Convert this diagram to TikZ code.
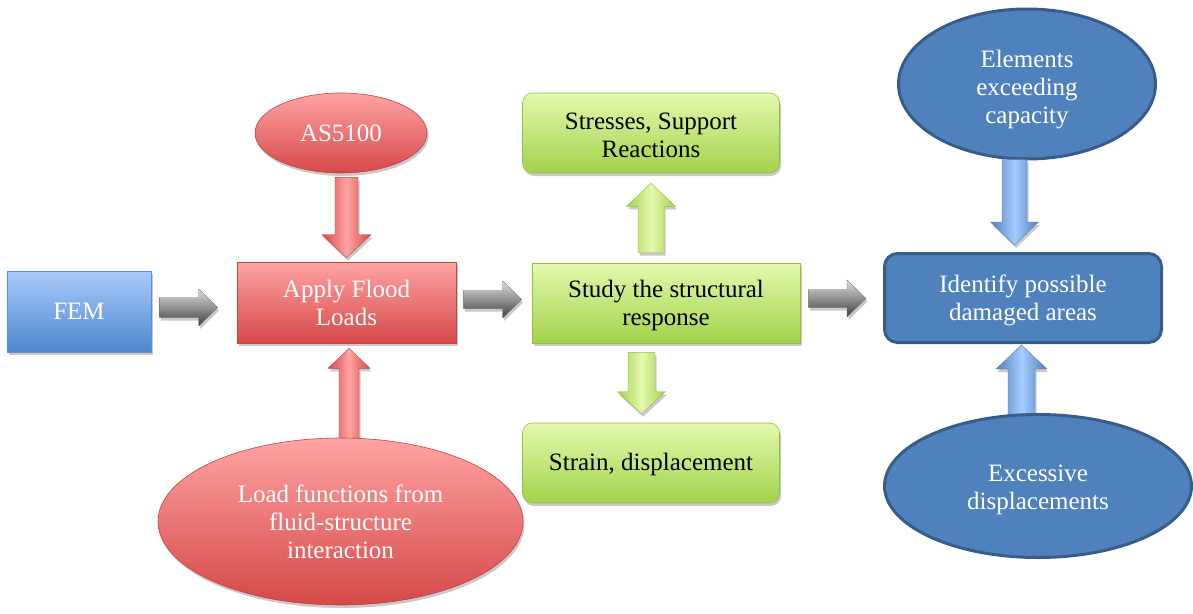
\documentclass[tikz,border=0pt]{standalone}
\usepackage{fontspec}
\setmainfont{Liberation Serif}
\usetikzlibrary{calc,shapes.geometric,shadows}
\definecolor{fem1}{HTML}{A8CBFA}
\definecolor{fem2}{HTML}{4E86D0}
\definecolor{fem3}{HTML}{5D8FD0}
\definecolor{red1}{HTML}{FFA3A3}
\definecolor{red2}{HTML}{D64848}
\definecolor{red3}{HTML}{C04545}
\definecolor{gr1}{HTML}{E4F9AE}
\definecolor{gr2}{HTML}{A2D24A}
\definecolor{gr3}{HTML}{94C040}
\definecolor{db1}{HTML}{4F81BD}
\definecolor{db2}{HTML}{385D8A}
\definecolor{ba1}{HTML}{A6CBFF}
\newcommand{\mystrut}[1]{\rule{0pt}{#1pt}}
\newcommand{\blockarr}[6]{%
  \coordinate (ba-h) at ($(#2)!#5!(#1)$);
  \path[#6] ($(#1)!#3!90:(#2)$) -- ($(ba-h)!#3!-90:(#1)$) -- ($(ba-h)!#4!-90:(#1)$)
    -- (#2) -- ($(ba-h)!#4!90:(#1)$) -- ($(ba-h)!#3!90:(#1)$) -- ($(#1)!#3!-90:(#2)$) -- cycle;
}
\begin{document}
\begin{tikzpicture}[x=1pt,y=-1pt,
  lbl/.style={font=\fontsize{25}{28}\selectfont, align=center, inner sep=0pt},
  shd/.style={drop shadow={shadow xshift=1.5pt, shadow yshift=-3pt, opacity=0.3, fill=black!70}},
  bluebox/.style={lbl, text=white, top color=fem1, bottom color=fem2, draw=fem3, line width=0.6pt, shd},
  redshape/.style={lbl, text=white, top color=red1, bottom color=red2, draw=red3, line width=0.6pt, shd},
  greenshape/.style={lbl, text=black, top color=gr1, bottom color=gr2, draw=gr3, line width=0.6pt, shd},
  darkshape/.style={lbl, text=white, fill=db1, draw=db2, line width=3pt},
  grayarr/.style={top color=gray!25, bottom color=black!75, draw=black!55, line width=0.4pt, shd},
  redarr/.style={left color=red2, right color=red2, middle color=red1, draw=red3, line width=0.4pt, shd},
  greenarr/.style={left color=gr2, right color=gr2, middle color=gr1, draw=gr3, line width=0.4pt, shd},
  bluearr/.style={left color=db1, right color=db1, middle color=ba1, draw=db2!80, line width=0.4pt, shd}
]
\useasboundingbox (0,0) rectangle (1193,613);

% nodes
\node[bluebox, rectangle, minimum width=144pt, minimum height=81pt] (fem) at (79,311.5) {FEM};
\node[redshape, rectangle, minimum width=219pt, minimum height=81pt] (apply) at (346.5,302.5) {\mystrut{19}Apply Flood\\Loads};
\node[redshape, ellipse, minimum width=172pt, minimum height=80pt] (as) at (341,133) {AS5100};
\node[greenshape, rectangle, minimum width=268pt, minimum height=80pt] (study) at (666,303) {\mystrut{23}Study the structural\\response};
\node[greenshape, rectangle, rounded corners=10pt, minimum width=257pt, minimum height=80pt] (stress) at (651,133) {\mystrut{21}Stresses, Support\\Reactions};
\node[greenshape, rectangle, rounded corners=10pt, minimum width=257pt, minimum height=80pt] (strain) at (651,463) {\mystrut{21}Strain, displacement};
\node[darkshape, rectangle, rounded corners=13pt, minimum width=277pt, minimum height=89pt] (ident) at (1023,298) {\mystrut{23}Identify possible\\damaged areas};
\node[darkshape, ellipse, minimum width=257pt, minimum height=150pt] (elem) at (1027,84) {\mystrut{29}Elements\\exceeding\\capacity};

% arrow coordinates
\coordinate (g1s) at ($(fem.east)+(8,-4)$);
\coordinate (g1e) at ($(apply.west)+(-19,5)$);
\coordinate (g2s) at ($(apply.east)+(7,-3)$);
\coordinate (g2e) at ($(study.west)+(-10,-3.5)$);
\coordinate (g3s) at ($(study.east)+(8,-4.5)$);
\coordinate (g3e) at ($(ident.west)+(-17,0.5)$);
\coordinate (r1s) at ($(as.south)+(5.5,4)$);
\coordinate (r1e) at ($(apply.north)+(0,-4)$);
\coordinate (u1s) at ($(study.north)+(-15,-10)$);
\coordinate (u1e) at ($(stress.south)+(0,10)$);
\coordinate (d1s) at ($(study.south)+(-24.5,9)$);
\coordinate (d1e) at ($(strain.north)+(-9.5,-9)$);
\coordinate (b1s) at ($(elem.south)+(-12.5,-1)$);
\coordinate (b1e) at ($(ident.north)+(-8.5,-7)$);

\blockarr{g1s}{g1e}{10pt}{18.5pt}{19pt}{grayarr}
\blockarr{g2s}{g2e}{9pt}{18.5pt}{19pt}{grayarr}
\blockarr{g3s}{g3e}{9pt}{18.5pt}{19pt}{grayarr}
\blockarr{r1s}{r1e}{11.5pt}{24.5pt}{23pt}{redarr}
\blockarr{u1s}{u1e}{13pt}{24.5pt}{23pt}{greenarr}
\blockarr{d1s}{d1e}{13.5pt}{24pt}{22pt}{greenarr}
\blockarr{b1s}{b1e}{12.5pt}{24pt}{23pt}{bluearr}

% lower shapes with arrows underneath
\coordinate (r2e) at ($(apply.south)+(2.5,5)$);
\coordinate (r2s) at (349,440);
\blockarr{r2s}{r2e}{10pt}{21pt}{20pt}{redarr}
\node[redshape, ellipse, minimum width=365pt, minimum height=167pt] (load) at (340.5,521.5) {\mystrut{19}Load functions from\\fluid-structure\\interaction};

\coordinate (b2e) at ($(ident.south)+(-1.5,1)$);
\coordinate (b2s) at (1021.5,418);
\blockarr{b2s}{b2e}{13.5pt}{25.5pt}{24pt}{bluearr}
\node[darkshape, ellipse, minimum width=307pt, minimum height=143pt] (exc) at (1038,486) {\mystrut{25}Excessive\\displacements};
\end{tikzpicture}
\end{document}
